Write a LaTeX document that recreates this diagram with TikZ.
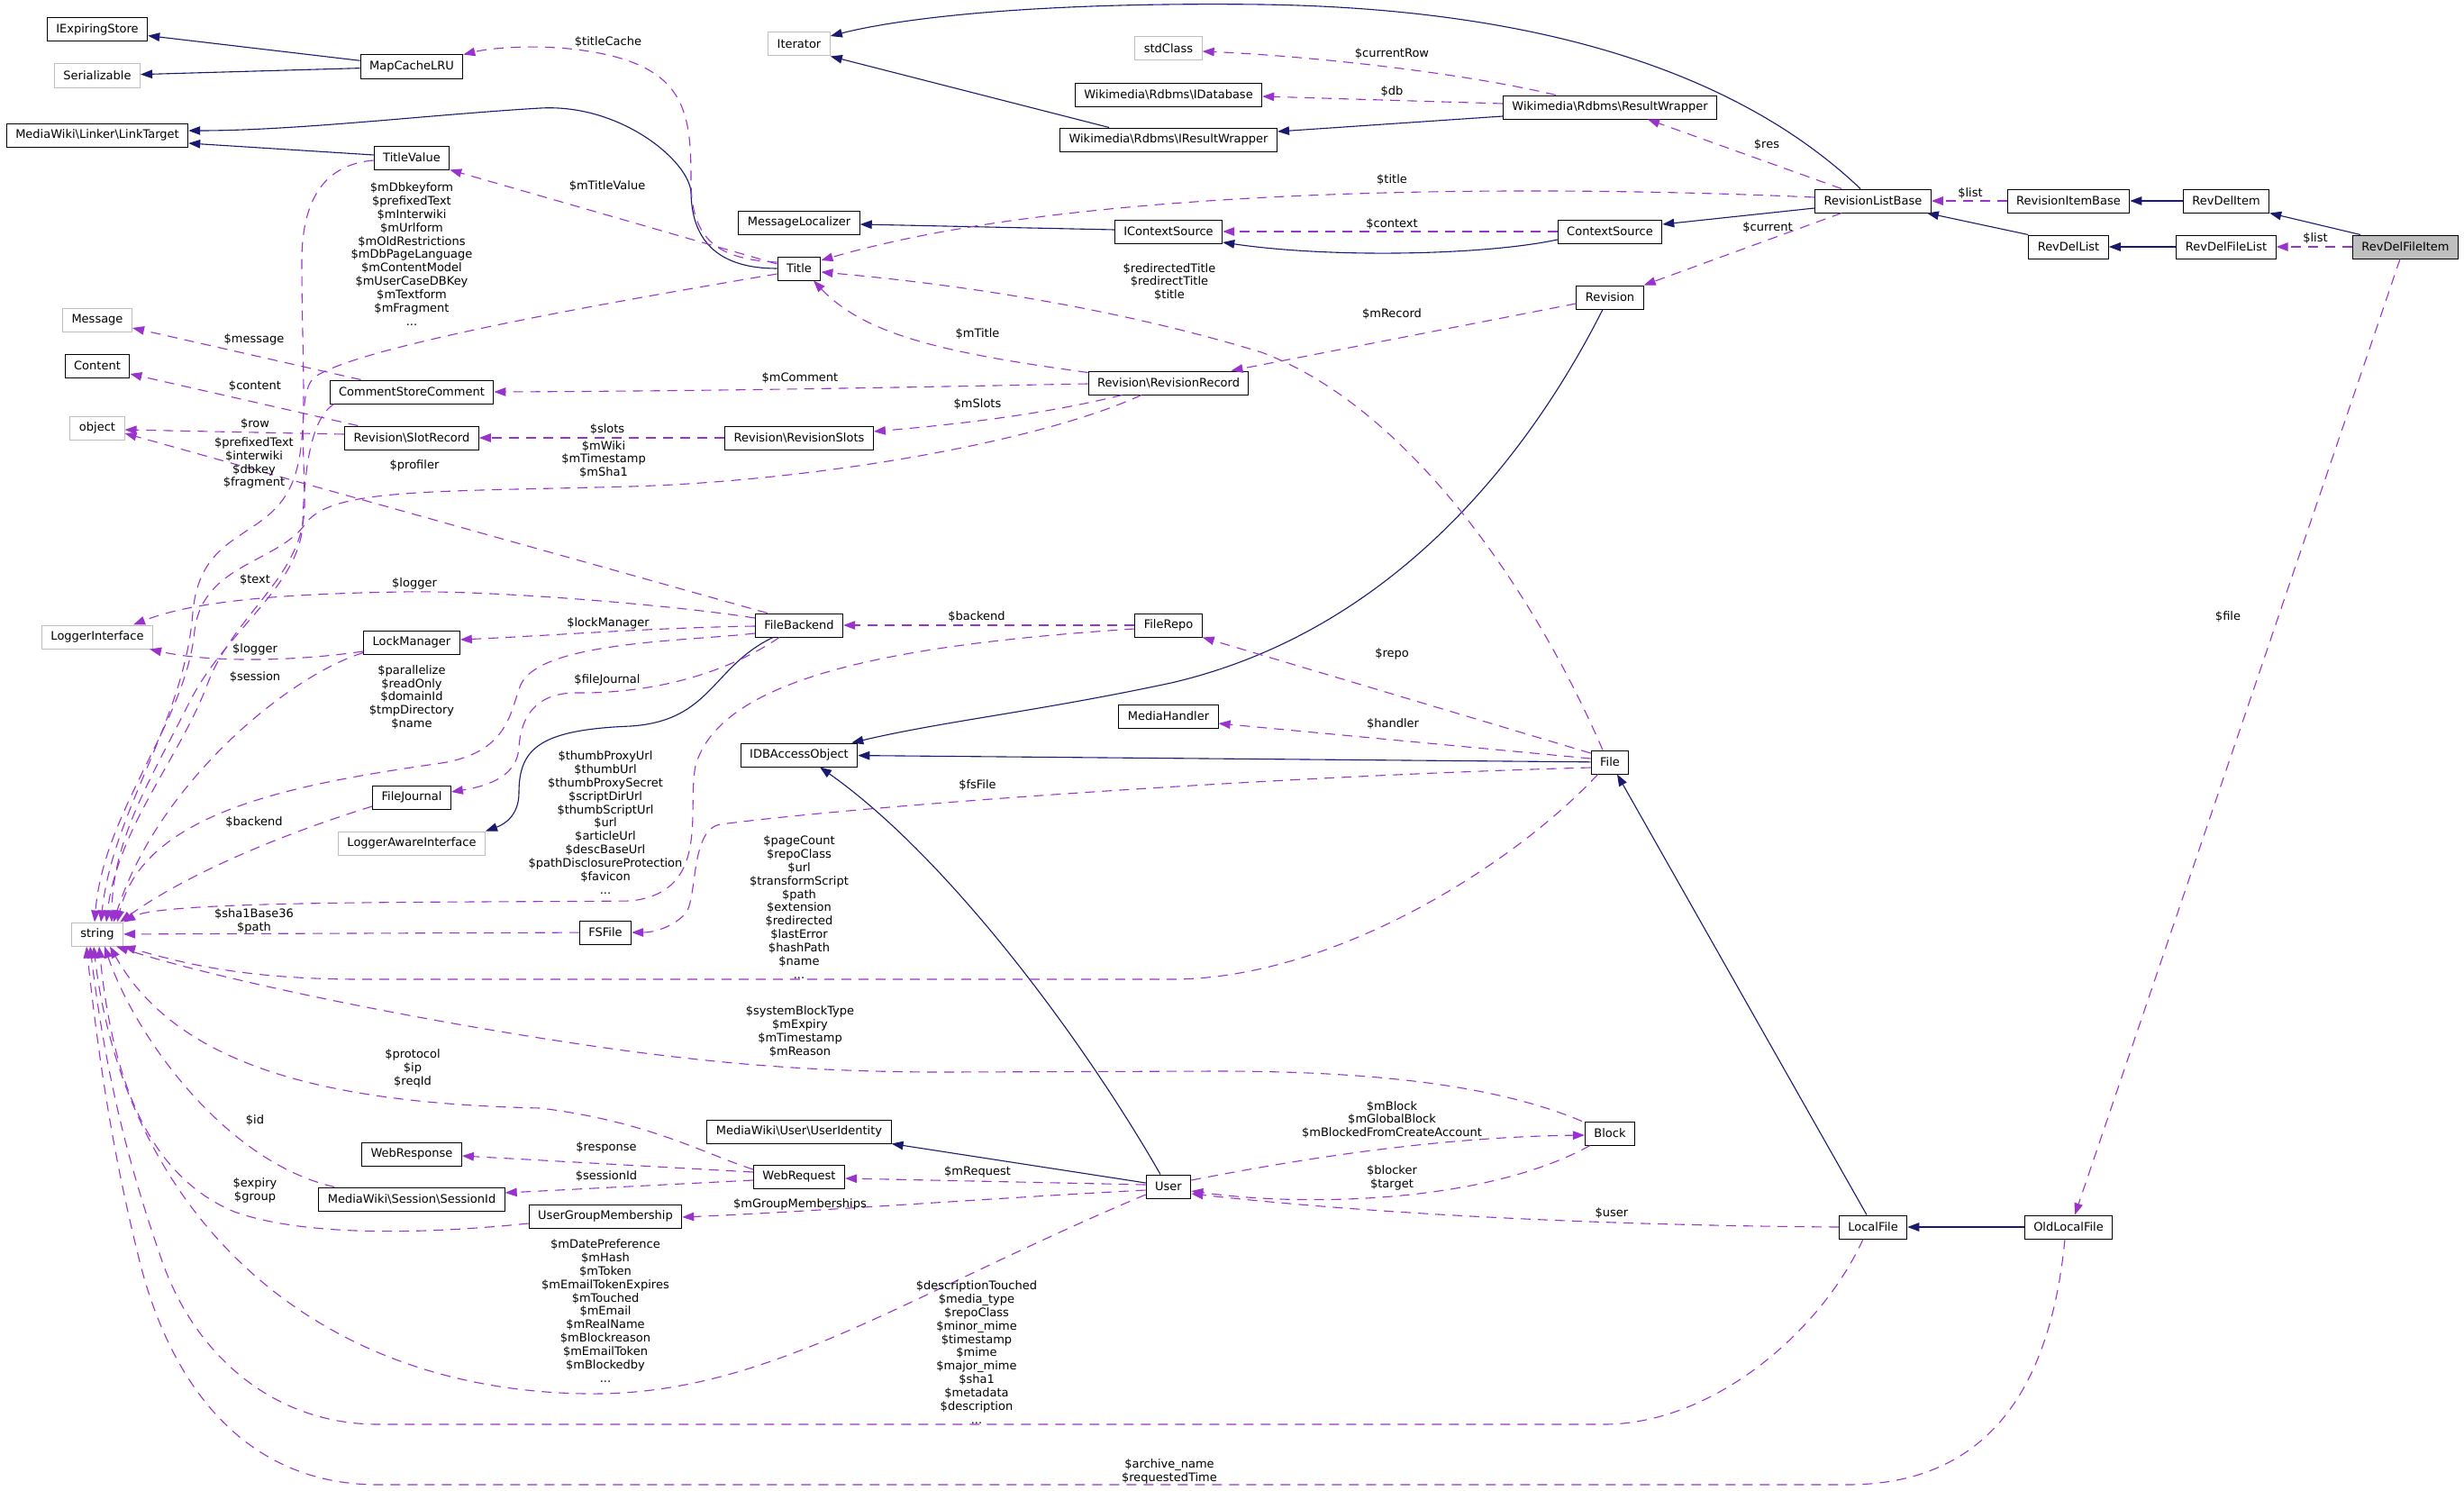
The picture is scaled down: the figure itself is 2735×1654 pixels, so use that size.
\documentclass[tikz,border=0pt]{standalone}
\usepackage{fontspec}
\setmainfont{DejaVu Sans}
\usetikzlibrary{arrows.meta,calc}
\definecolor{navy}{HTML}{191970}
\definecolor{orch}{HTML}{9A32CD}
\definecolor{graybd}{HTML}{BFBFBF}
\newcommand{\labfont}{\fontsize{13}{14.9}\selectfont}
\newcommand{\bksl}{\textbackslash}
\begin{document}
\begin{tikzpicture}[x=1pt,y=-1pt,
  cls/.style={draw=black, line width=1pt, fill=white, font=\labfont, inner xsep=10pt, inner ysep=0pt, minimum height=26pt},
  ext/.style={cls, draw=graybd},
  lbl/.style={font=\labfont, align=center, inner sep=0pt},
  inh/.style={draw=navy, line width=1.1pt, -{Triangle[length=13pt,width=9.5pt]}},
  use/.style={draw=orch, line width=1.1pt, dash pattern=on 11pt off 8pt, -{Triangle[length=13pt,width=9.5pt]}},
]
\useasboundingbox[fill=white] (0,0) rectangle (2735,1654);

% ---------------- nodes ----------------
\node[cls] (ies) at (108,33) {IExpiringStore};
\node[ext] (ser) at (108,84) {Serializable};
\node[cls] (mcl) at (457,74) {MapCacheLRU};
\node[cls] (lt) at (108,150) {MediaWiki\bksl Linker\bksl LinkTarget};
\node[cls] (tv) at (457,175) {TitleValue};
\node[ext] (msg) at (108,355) {Message};
\node[cls] (cnt) at (108,406) {Content};
\node[ext] (obj) at (108,475) {object};
\node[cls] (csc) at (457,435) {CommentStoreComment};
\node[cls] (sr) at (457,486) {Revision\bksl SlotRecord};
\node[ext] (it) at (887,49) {Iterator};
\node[ext] (std) at (1297,54) {stdClass};
\node[cls] (idb) at (1297,105) {Wikimedia\bksl Rdbms\bksl IDatabase};
\node[cls] (irw) at (1297,155) {Wikimedia\bksl Rdbms\bksl IResultWrapper};
\node[cls] (ml) at (887,247) {MessageLocalizer};
\node[cls] (ics) at (1297,257) {IContextSource};
\node[cls] (title) at (887,298) {Title};
\node[cls] (rr) at (1297,425) {Revision\bksl RevisionRecord};
\node[cls] (rs) at (887,486) {Revision\bksl RevisionSlots};
\node[cls] (rw) at (1787,119) {Wikimedia\bksl Rdbms\bksl ResultWrapper};
\node[cls] (rlb) at (2079,223) {RevisionListBase};
\node[cls] (cs) at (1787,257) {ContextSource};
\node[cls] (rev) at (1787,330) {Revision};
\node[cls] (rib) at (2296,223) {RevisionItemBase};
\node[cls] (rdi) at (2471,223) {RevDelItem};
\node[cls] (rdl) at (2296,274) {RevDelList};
\node[cls] (rdfl) at (2471,274) {RevDelFileList};
\node[cls, fill=graybd] (rdfi) at (2670,274) {RevDelFileItem};
\node[ext] (li) at (108,707) {LoggerInterface};
\node[cls] (lm) at (457,713) {LockManager};
\node[cls] (fj) at (457,885) {FileJournal};
\node[ext] (lai) at (457,936) {LoggerAwareInterface};
\node[ext] (str) at (108,1037) {string};
\node[cls] (fsf) at (672,1035) {FSFile};
\node[cls] (fb) at (887,694) {FileBackend};
\node[cls] (fr) at (1297,694) {FileRepo};
\node[cls] (mh) at (1297,795) {MediaHandler};
\node[cls] (idbo) at (887,838) {IDBAccessObject};
\node[cls] (file) at (1787,846) {File};
\node[cls] (wresp) at (457,1281) {WebResponse};
\node[cls] (sid) at (457,1331) {MediaWiki\bksl Session\bksl SessionId};
\node[cls] (ugm) at (672,1350) {UserGroupMembership};
\node[cls] (uid) at (887,1256) {MediaWiki\bksl User\bksl UserIdentity};
\node[cls] (wreq) at (887,1306) {WebRequest};
\node[cls] (user) at (1297,1317) {User};
\node[cls] (block) at (1787,1258) {Block};
\node[cls] (lf) at (2079,1362) {LocalFile};
\node[cls] (olf) at (2296,1362) {OldLocalFile};

% ---------------- inheritance ----------------
\draw[inh] (mcl) -- (ies);
\draw[inh] (mcl) -- (ser);
\draw[inh] (title.west) .. controls (800,298) and (768,270) .. (767,214) .. controls (766,180) and (690,115) .. (600,120) .. controls (480,127) and (330,145) .. ($(lt.east)+(0,-5)$);
\draw[inh] ($(tv.west)+(0,-3)$) -- ($(lt.east)+(0,9)$);
\draw[inh] ($(irw.north west)+(55,0)$) -- (it.south east);
\draw[inh] ($(rlb.north)+(-14,0)$) .. controls (1950,100) and (1750,10) .. (1400,5) .. controls (1150,2) and (1000,20) .. ($(it.east)+(0,-9)$);
\draw[inh] ($(rw.west)+(0,10)$) -- ($(irw.east)+(0,-9)$);
\draw[inh] ($(ics.west)+(0,-2)$) -- ($(ml.east)+(0,2)$);
\draw[inh] ($(cs.west)+(0,9)$) .. controls (1650,283) and (1480,287) .. ($(ics.east)+(0,12)$);
\draw[inh] ($(rlb.west)+(0,8)$) -- ($(cs.east)+(0,-8)$);
\draw[inh] (rdi) -- (rib);
\draw[inh] ($(rdfi.north west)+(9,0)$) -- (rdi.south east);
\draw[inh] (rdl.north west) -- ($(rlb.south east)+(-5,0)$);
\draw[inh] (rdfl) -- (rdl);
\draw[inh] ($(fb.south)+(-29,0)$) .. controls (790,740) and (790,800) .. (700,806) .. controls (600,810) and (576,830) .. (576,880) .. controls (576,905) and (560,915) .. (lai.north east);
\draw[inh] ($(rev.south)+(-8,0)$) .. controls (1700,500) and (1550,700) .. (1300,758) .. controls (1150,790) and (1050,800) .. ($(idbo.north east)+(-7,0)$);
\draw[inh] (file) -- (idbo);
\draw[inh] ($(user.north)+(-9,0)$) .. controls (1200,1150) and (1050,950) .. ($(idbo.south)+(23,0)$);
\draw[inh] ($(user.west)+(0,-4)$) -- (uid.south east);
\draw[inh] ($(lf.north)+(-7,0)$) -- ($(file.south)+(8,0)$);
\draw[inh] (olf) -- (lf);

% ---------------- usage ----------------
\draw[use] ($(title.west)+(0,-7)$) .. controls (790,288) and (767,260) .. (767,200) .. controls (767,120) and (760,70) .. (640,55) .. controls (600,50) and (550,52) .. (mcl.north east);
\draw[use] ($(title.west)+(0,-5)$) -- (tv.south east);
\draw[use] ($(title.west)+(0,6)$) .. controls (650,340) and (400,385) .. (350,418) .. controls (330,432) and (338,500) .. (338,560) .. controls (338,640) and (260,680) .. (230,760) .. controls (200,840) and (130,920) .. ($(str.north)+(10,0)$);
\draw[use] ($(tv.west)+(0,3)$) .. controls (365,182) and (335,215) .. (335,290) .. controls (335,420) and (345,500) .. (320,545) .. controls (290,600) and (222,590) .. (214,680) .. controls (205,800) and (125,900) .. ($(str.north)+(4,0)$);
\draw[use] ($(csc.north west)+(35,0)$) -- ($(msg.east)+(0,9)$);
\draw[use] ($(csc.south west)+(5,0)$) .. controls (345,465) and (338,520) .. (336,580) .. controls (334,650) and (250,700) .. (210,780) .. controls (170,860) and (125,930) .. ($(str.north)+(16,0)$);
\draw[use] ($(sr.north west)+(15,0)$) -- ($(cnt.east)+(0,9)$);
\draw[use] ($(sr.west)+(0,-4)$) -- ($(obj.east)+(0,2)$);
\draw[use] ($(fb.north west)+(14,0)$) -- ($(obj.east)+(0,6)$);
\draw[use] (rs) -- (sr);
\draw[use] ($(rr.west)+(0,1)$) .. controls (1000,430) and (800,434) .. (csc.east);
\draw[use] ($(rr.south west)+(38,0)$) .. controls (1150,462) and (1050,472) .. ($(rs.east)+(0,-7)$);
\draw[use] ($(rr.north west)+(0,2)$) .. controls (1050,392) and (960,372) .. ($(title.south)+(16,0)$);
\draw[use] ($(rr.south)+(-30,0)$) .. controls (1150,492) and (900,534) .. (700,540) .. controls (480,546) and (370,542) .. (340,580) .. controls (310,625) and (225,625) .. (216,700) .. controls (207,800) and (115,900) .. ($(str.north)+(-3,0)$);
\draw[use] ($(rev.west)+(0,7)$) -- ($(rr.north east)+(-20,0)$);
\draw[use] ($(rlb.west)+(0,-4)$) .. controls (1700,205) and (1200,205) .. ($(title.east)+(0,-9)$);
\draw[use] ($(rlb.north west)+(30,0)$) -- ($(rw.south)+(42,0)$);
\draw[use] ($(rlb.south west)+(30,0)$) -- (rev.north east);
\draw[use] (cs) -- (ics);
\draw[use] ($(rw.west)+(0,-4)$) -- ($(idb.east)+(0,2)$);
\draw[use] ($(rw.north west)+(59,0)$) .. controls (1620,80) and (1450,62) .. ($(std.east)+(0,3)$);
\draw[use] (rib) -- (rlb);
\draw[use] (rdfi) -- (rdfl);
\draw[use] ($(rdfi.south)+(-6,0)$) -- ($(olf.north)+(7,0)$);
\draw[use] ($(file.north)+(-8,0)$) .. controls (1700,650) and (1560,450) .. (1400,391) .. controls (1200,330) and (1000,310) .. ($(title.east)+(0,4)$);
\draw[use] ($(fb.west)+(0,-8)$) .. controls (750,672) and (550,655) .. (446,657) .. controls (330,659) and (220,665) .. ($(li.north east)+(-22,0)$);
\draw[use] ($(lm.west)+(0,10)$) .. controls (320,735) and (230,735) .. ($(li.south east)+(-4,0)$);
\draw[use] ($(fb.west)+(0,1)$) .. controls (720,697) and (620,705) .. ($(lm.east)+(0,-3)$);
\draw[use] ($(fb.south)+(-22,0)$) .. controls (810,745) and (730,770) .. (640,769) .. controls (595,769) and (578,795) .. (576,830) .. controls (574,860) and (545,872) .. ($(fj.east)+(0,-6)$);
\draw[use] ($(fb.west)+(0,9)$) .. controls (760,712) and (600,712) .. (578,760) .. controls (566,790) and (565,835) .. (490,847) .. controls (330,870) and (160,900) .. ($(str.north)+(22,0)$);
\draw[use] ($(lm.south west)+(0,-2)$) .. controls (320,750) and (175,870) .. ($(str.north)+(18,0)$);
\draw[use] ($(fj.west)+(0,10)$) .. controls (300,930) and (200,975) .. ($(str.north east)+(-4,0)$);
\draw[use] (fr) -- (fb);
\draw[use] ($(fr.west)+(0,4)$) .. controls (1000,715) and (800,750) .. (772,850) .. controls (762,900) and (790,990) .. (700,1000) .. controls (500,1002) and (180,999) .. (str.north east);
\draw[use] ($(file.west)+(0,6)$) .. controls (1400,862) and (950,895) .. (800,915) .. controls (765,920) and (775,1000) .. (760,1015) .. controls (745,1030) and (725,1035) .. (fsf.east);
\draw[use] ($(file.west)+(0,-10)$) -- (fr.south east);
\draw[use] ($(file.west)+(0,-4)$) -- ($(mh.east)+(0,8)$);
\draw[use] ($(file.south west)+(8,0)$) .. controls (1680,960) and (1480,1087) .. (1300,1087) -- (400,1087) .. controls (260,1087) and (190,1065) .. (str.south east);
\draw[use] (fsf) -- (str);
\draw[use] ($(block.north west)+(-3,0)$) .. controls (1650,1200) and (1500,1189) .. (1350,1189) -- (1050,1190) .. controls (900,1190) and (800,1180) .. (700,1167) .. controls (500,1140) and (250,1090) .. ($(str.south east)+(-8,0)$);
\draw[use] ($(wreq.west)+(0,-8)$) .. controls (780,1280) and (720,1245) .. (600,1230) .. controls (380,1225) and (200,1190) .. ($(str.south)+(14,0)$);
\draw[use] ($(wreq.west)+(0,-5)$) -- ($(wresp.east)+(0,2)$);
\draw[use] ($(wreq.west)+(0,4)$) -- ($(sid.east)+(0,-7)$);
\draw[use] ($(sid.north west)+(18,0)$) .. controls (250,1290) and (150,1150) .. ($(str.south)+(8,0)$);
\draw[use] ($(ugm.west)+(0,8)$) .. controls (450,1372) and (330,1370) .. (260,1345) .. controls (165,1305) and (125,1200) .. ($(str.south)+(2,0)$);
\draw[use] ($(user.west)+(0,9)$) .. controls (1000,1440) and (850,1550) .. (650,1547) .. controls (320,1542) and (135,1320) .. ($(str.south)+(-4,0)$);
\draw[use] ($(user.west)+(0,-2)$) -- ($(wreq.east)+(0,2)$);
\draw[use] ($(user.west)+(0,4)$) .. controls (1100,1330) and (900,1345) .. ($(ugm.east)+(0,1)$);
\draw[use] ($(user.east)+(0,-7)$) .. controls (1450,1285) and (1600,1262) .. ($(block.west)+(0,2)$);
\draw[use] ($(block.south west)+(6,0)$) .. controls (1650,1335) and (1450,1340) .. ($(user.east)+(0,5)$);
\draw[use] (lf.west) .. controls (1750,1360) and (1500,1345) .. ($(user.east)+(0,8)$);
\draw[use] ($(lf.south)+(-11,0)$) .. controls (2020,1480) and (1900,1581) .. (1780,1581) -- (420,1581) .. controls (300,1581) and (215,1500) .. (180,1400) .. controls (145,1300) and (118,1200) .. ($(str.south)+(-8,0)$);
\draw[use] ($(olf.south)+(-4,0)$) .. controls (2275,1550) and (2200,1648) .. (2050,1648) -- (420,1648) .. controls (260,1648) and (185,1520) .. (155,1400) .. controls (130,1300) and (112,1200) .. ($(str.south)+(-12,0)$);

% ---------------- labels ----------------
\node[lbl] (l01) at (675,47) {\$titleCache};
\node[lbl] (l02) at (674,207) {\$mTitleValue};
\node[lbl] (l03) at (457,282) {\$mDbkeyform\\\$prefixedText\\\$mInterwiki\\\$mUrlform\\\$mOldRestrictions\\\$mDbPageLanguage\\\$mContentModel\\\$mUserCaseDBKey\\\$mTextform\\\$mFragment\\...};
\node[lbl] (l04) at (282,377) {\$message};
\node[lbl] (l05) at (283,429) {\$content};
\node[lbl] (l06) at (283,471) {\$row};
\node[lbl] (l07) at (282,514) {\$prefixedText\\\$interwiki\\\$dbkey\\\$fragment};
\node[lbl] (l08) at (460,517) {\$profiler};
\node[lbl] (l09) at (674,477) {\$slots};
\node[lbl] (l10) at (670,510) {\$mWiki\\\$mTimestamp\\\$mSha1};
\node[lbl] (l11) at (1298,313) {\$redirectedTitle\\\$redirectTitle\\\$title};
\node[lbl] (l12) at (1085,371) {\$mTitle};
\node[lbl] (l13) at (888,420) {\$mComment};
\node[lbl] (l14) at (1085,449) {\$mSlots};
\node[lbl] (l15) at (1545,60) {\$currentRow};
\node[lbl] (l16) at (1545,102) {\$db};
\node[lbl] (l17) at (1961,161) {\$res};
\node[lbl] (l18) at (1545,200) {\$title};
\node[lbl] (l19) at (1545,249) {\$context};
\node[lbl] (l20) at (1962,253) {\$current};
\node[lbl] (l21) at (1545,349) {\$mRecord};
\node[lbl] (l22) at (2187,215) {\$list};
\node[lbl] (l23) at (2570,265) {\$list};
\node[lbl] (l24) at (283,644) {\$text};
\node[lbl] (l25) at (460,648) {\$logger};
\node[lbl] (l26) at (675,692) {\$lockManager};
\node[lbl] (l27) at (283,721) {\$logger};
\node[lbl] (l28) at (283,752) {\$session};
\node[lbl] (l29) at (457,774) {\$parallelize\\\$readOnly\\\$domainId\\\$tmpDirectory\\\$name};
\node[lbl] (l30) at (674,755) {\$fileJournal};
\node[lbl] (l31) at (282,913) {\$backend};
\node[lbl] (l32) at (672,913) {\$thumbProxyUrl\\\$thumbUrl\\\$thumbProxySecret\\\$scriptDirUrl\\\$thumbScriptUrl\\\$url\\\$articleUrl\\\$descBaseUrl\\\$pathDisclosureProtection\\\$favicon\\...};
\node[lbl] (l33) at (282,1022) {\$sha1Base36\\\$path};
\node[lbl] (l34) at (1084,685) {\$backend};
\node[lbl] (l35) at (1085,872) {\$fsFile};
\node[lbl] (l36) at (887,1007) {\$pageCount\\\$repoClass\\\$url\\\$transformScript\\\$path\\\$extension\\\$redirected\\\$lastError\\\$hashPath\\\$name\\...};
\node[lbl] (l37) at (1545,726) {\$repo};
\node[lbl] (l38) at (1546,804) {\$handler};
\node[lbl] (l39) at (2473,685) {\$file};
\node[lbl] (l40) at (458,1186) {\$protocol\\\$ip\\\$reqId};
\node[lbl] (l41) at (283,1244) {\$id};
\node[lbl] (l42) at (283,1321) {\$expiry\\\$group};
\node[lbl] (l43) at (673,1274) {\$response};
\node[lbl] (l44) at (673,1305) {\$sessionId};
\node[lbl] (l45) at (672,1455) {\$mDatePreference\\\$mHash\\\$mToken\\\$mEmailTokenExpires\\\$mTouched\\\$mEmail\\\$mRealName\\\$mBlockreason\\\$mEmailToken\\\$mBlockedby\\...};
\node[lbl] (l46) at (888,1145) {\$systemBlockType\\\$mExpiry\\\$mTimestamp\\\$mReason};
\node[lbl] (l47) at (1085,1301) {\$mRequest};
\node[lbl] (l48) at (888,1337) {\$mGroupMemberships};
\node[lbl] (l49) at (1084,1501) {\$descriptionTouched\\\$media\_type\\\$repoClass\\\$minor\_mime\\\$timestamp\\\$mime\\\$major\_mime\\\$sha1\\\$metadata\\\$description\\...};
\node[lbl] (l50) at (1298,1633) {\$archive\_name\\\$requestedTime};
\node[lbl] (l51) at (1545,1243) {\$mBlock\\\$mGlobalBlock\\\$mBlockedFromCreateAccount};
\node[lbl] (l52) at (1545,1307) {\$blocker\\\$target};
\node[lbl] (l53) at (1789,1346) {\$user};
\end{tikzpicture}
\end{document}
